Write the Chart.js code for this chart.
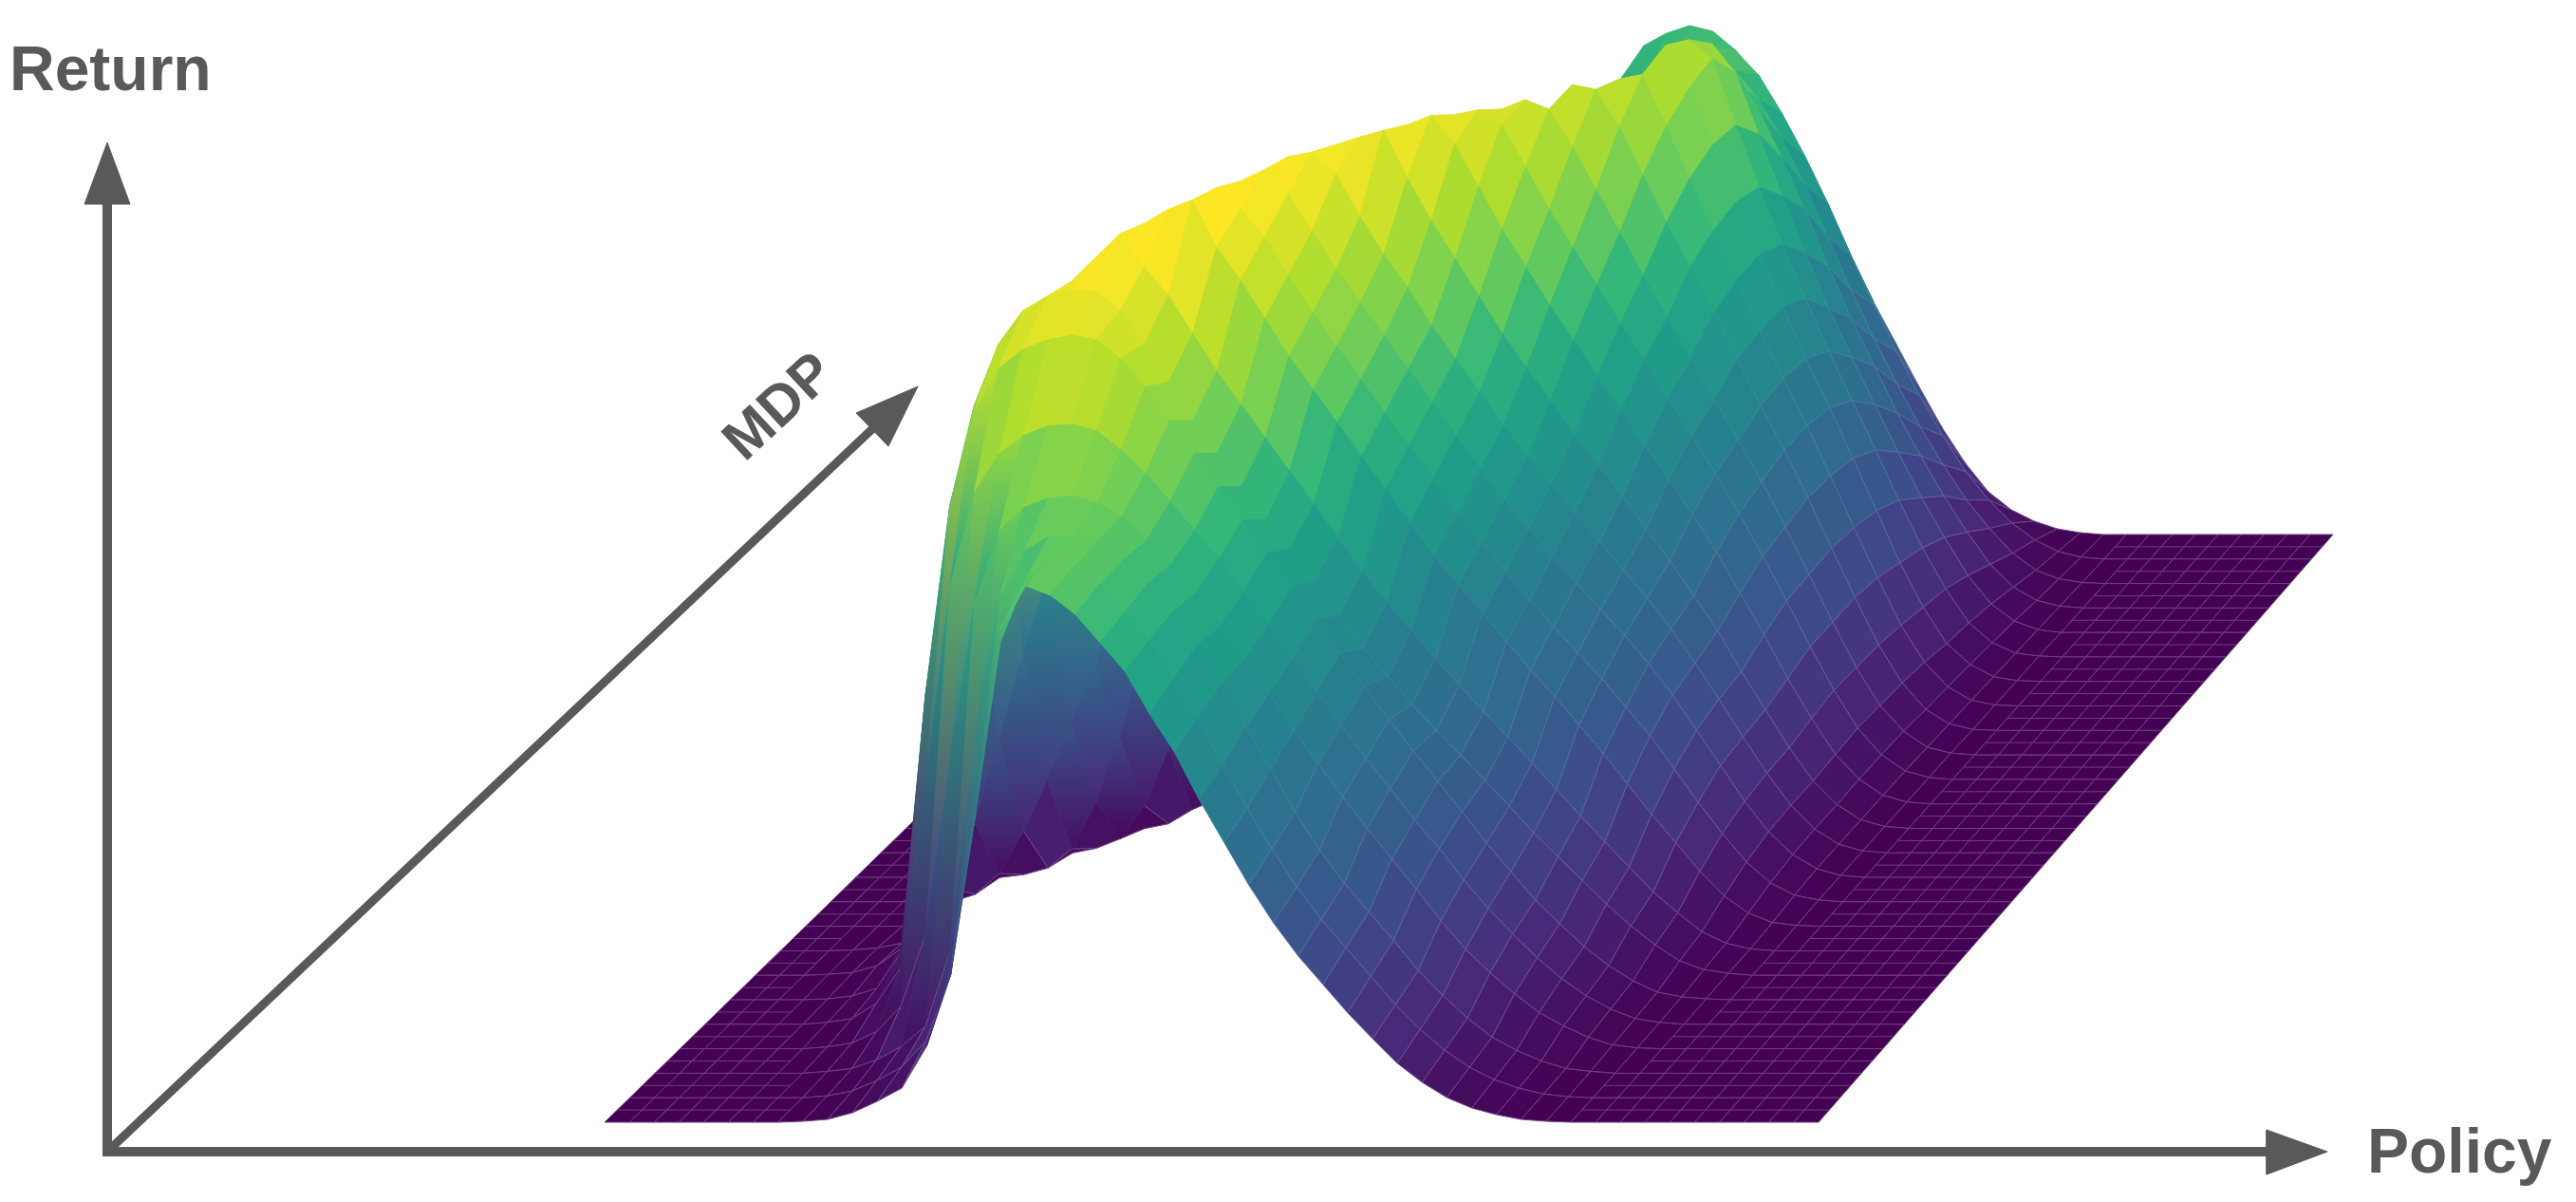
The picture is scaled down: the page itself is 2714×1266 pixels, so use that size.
<!DOCTYPE html>
<html><head><meta charset="utf-8">
<style>html,body{margin:0;background:#fff}canvas{display:block}</style>
<script src="https://cdn.jsdelivr.net/npm/chart.js@4"></script>
</head><body><canvas id="c" width="2714" height="1266"></canvas>
<script>
const axisLabels=["Return","MDP","Policy"];
const inkColor="#595959";
// surface height: one list per MDP row, front to back, one value per policy column
const row00=[0,0,0,0,0,0,0,0,1,3,10,22,36,80,165,340,520,565,555,535,505,475,430,390,340,295,250,210,175,145,115,88,62,42,26,15,8,3,1];
const row01=[0,0,0,0,0,0,0,0,2,7,18,32,60,130,300,480,545,565,560,540,510,480,440,400,350,305,262,222,188,158,128,98,72,50,32,19,10,4,1];
const row02=[0,0,0,0,0,0,0,2,5,14,28,50,130,340,500,550,565,565,560,540,515,485,450,410,365,320,275,235,200,170,140,108,82,58,38,24,13,5,2];
const row03=[0,0,0,0,0,0,2,6,18,45,120,300,470,545,570,580,582,575,560,535,510,480,445,410,375,335,300,265,232,200,168,135,105,80,58,38,24,12,4,1];
const row04=[0,0,0,0,0,2,6,22,60,250,460,560,600,620,630,632,625,605,580,550,520,490,455,420,385,350,315,280,248,215,185,152,122,95,70,48,30,16,6,2];
const row05=[0,0,0,0,1,4,12,50,320,520,620,665,685,695,700,695,675,645,610,575,540,505,470,435,400,365,330,295,262,230,198,165,135,105,80,56,36,20,8,3,1];
const row06=[0,0,0,1,3,10,28,200,470,600,665,700,715,722,720,700,665,625,585,550,515,480,450,415,380,345,315,285,258,232,205,178,150,125,100,75,52,32,15,6,2];
const row07=[0,0,0,1,3,8,60,250,400,520,610,680,705,730,755,720,690,650,610,575,540,505,470,435,400,368,338,308,280,252,225,198,170,142,115,88,62,40,20,8,2];
const row08=[0,0,0,0,0,10,40,110,200,290,370,450,550,645,740,755,765,715,680,640,600,565,530,495,460,425,390,360,330,300,270,242,212,182,150,118,88,58,32,14,4,1];
const row09=[0,0,0,0,0,0,8,30,75,130,190,250,330,440,580,690,752,730,700,660,620,585,550,515,480,445,410,378,348,318,290,262,235,205,175,140,105,72,42,20,7,2];
const row10=[0,0,0,0,0,0,0,3,10,30,80,150,240,380,520,650,733,745,720,680,640,605,570,535,500,465,430,398,368,338,310,282,255,225,192,155,118,80,48,24,9,2];
const row11=[0,0,0,0,0,0,0,0,0,5,15,50,110,200,320,470,620,733,738,715,670,630,595,555,520,485,450,418,388,358,328,298,268,236,200,162,122,84,50,25,9,2];
const row12=[0,0,0,0,0,0,0,0,0,0,0,5,20,70,150,270,420,590,720,728,735,685,640,600,560,520,485,450,415,382,350,315,282,245,208,165,125,85,50,25,9,2];
const row13=[0,0,0,0,0,0,0,0,0,0,0,0,5,20,60,120,230,380,540,670,715,725,695,650,605,565,525,488,450,415,378,342,305,265,222,178,132,90,52,26,9,2];
const row14=[0,0,0,0,0,0,0,0,0,0,0,0,0,2,10,40,100,190,320,480,620,700,705,690,645,600,560,520,480,442,402,362,322,280,235,188,140,94,54,26,9,2];
const row15=[0,0,0,0,0,0,0,0,0,0,0,0,0,0,0,5,20,60,130,250,400,560,680,690,680,640,595,550,505,460,418,375,332,288,240,190,140,92,52,25,8,2];
const row16=[0,0,0,0,0,0,0,0,0,0,0,0,0,0,0,0,3,15,50,110,210,340,490,620,680,675,635,585,535,488,440,392,342,295,245,192,140,90,50,22,7,1];
const row17=[0,0,0,0,0,0,0,0,0,0,0,0,0,0,0,2,8,20,40,75,130,215,330,470,590,660,665,610,555,500,448,395,345,295,242,188,135,85,46,20,6,1];
const row18=[0,0,0,0,0,0,0,0,0,0,0,0,0,0,0,1,3,10,22,45,85,150,250,380,520,630,670,625,565,505,450,395,340,288,235,180,125,78,40,18,5,1];
const row19=[0,0,0,0,0,0,0,0,0,0,0,0,0,0,0,0,2,6,14,30,60,115,210,350,490,600,650,630,560,495,435,378,322,270,218,165,115,72,36,15,4,1];
const row20=[0,0,0,0,0,0,0,0,0,0,0,0,0,0,0,0,0,4,10,22,50,105,230,400,520,600,620,590,525,460,400,342,290,240,190,142,100,60,30,12,3];
const row21=[0,0,0,0,0,0,0,0,0,0,0,0,0,0,0,0,0,3,8,20,60,180,400,520,565,570,555,525,475,420,360,305,255,205,160,118,80,46,22,8,2];
const row22=[0,0,0,0,0,0,0,0,0,0,0,0,0,0,0,0,0,3,100,300,430,480,510,540,555,540,510,470,420,365,310,258,210,165,125,88,58,32,14,5,1];
const row23=[0,0,0,0,0,0,0,0,0,0,0,0,0,0,0,0,0,100,350,480,500,510,520,540,535,510,470,425,375,320,268,218,172,130,92,62,38,20,8,2];
const row24=[0,0,0,0,0,0,0,0,0,0,0,0,0,0,0,0,0,200,480,515,528,536,530,510,480,440,395,345,295,245,200,155,112,75,45,26,14,6,2];
const surfaceRows=[row00,row01,row02,row03,row04,row05,row06,row07,row08,row09,row10,row11,row12,row13,row14,row15,row16,row17,row18,row19,row20,row21,row22,row23,row24];
const columnCount=50;
const heightStops=[0,100,200,340,490,570,640,720,740];
const colourStops=[0,.14,.27,.43,.62,.77,.87,.98,1];
const viridis=[[68,1,84],[72,40,120],[62,74,137],[49,104,142],[38,130,142],[31,158,137],[53,183,121],[109,205,89],[180,222,44],[253,231,37]];

const canvas=document.getElementById('c'),pen=canvas.getContext('2d');
function place(u,v,z){return {x:637+635*v+(1279-93*v)*u,y:1182-619*v-z};}
function tone(z){
  let i=0;while(i<heightStops.length-2&&z>heightStops[i+1])i++;
  const f=(z-heightStops[i])/(heightStops[i+1]-heightStops[i]);
  return Math.max(0,Math.min(1,colourStops[i]+f*(colourStops[i+1]-colourStops[i])));
}
function paint(t,white){
  const p=t*(viridis.length-1),i=Math.min(viridis.length-2,Math.floor(p)),f=p-i;
  const c=viridis[i].map((a,n)=>a+(viridis[i+1][n]-a)*f).map(a=>Math.round(a+(255-a)*white));
  return `rgb(${c[0]},${c[1]},${c[2]})`;
}
// a tall, steep cell cannot be one flat colour: it shades from its lowest to its highest corner
function cellFill(pts,zs,flat){
  const lo=Math.min(...zs),hi=Math.max(...zs);
  if(hi-lo<130) return flat;
  const ys=zs.map((z,i)=>({z,y:pts[i].y})),top=ys.find(o=>o.z===hi),low=ys.find(o=>o.z===lo);
  if(Math.abs(top.y-low.y)<1) return flat;
  const g=pen.createLinearGradient(0,top.y,0,low.y);
  g.addColorStop(0,paint(tone(hi),0));g.addColorStop(1,paint(tone(lo),0));
  return g;
}
const datasets=[];
const H=(r,k)=>surfaceRows[r][k]??0;
// painter's order: chart draws the last dataset first, so the front rows go first in the list
const last=surfaceRows.length-1;
for(let r=0;r<last;r++){
  for(let k=columnCount-2;k>=0;k--){
    const u0=k/(columnCount-1),u1=(k+1)/(columnCount-1),v0=r/last,v1=(r+1)/last;
    const a=H(r,k),b=H(r,k+1),c=H(r+1,k+1),d=H(r+1,k);
    const t=tone((a+b+c+d)/4);
    const edge=paint(t,Math.max(0,.24*(1-t*1.7)));
    // the flat floor carries one extra mesh line per cell, as the reference mesh is twice as dense there
    if(a+b+c+d===0){
      const m=(v0+v1)/2;
      datasets.push({data:[place(u0,m,0),place(u1,m,0)],showLine:true,fill:false,borderColor:edge,borderWidth:1,pointRadius:0,tension:0,clip:false});
    }
    const pts=[place(u0,v0,a),place(u1,v0,b),place(u1,v1,c),place(u0,v1,d)];
    const fillStyle=cellFill(pts,[a,b,c,d],paint(t,0));
    datasets.push({data:[...pts,pts[0]],showLine:true,fill:'shape',backgroundColor:fillStyle,
      borderColor:fillStyle===paint(t,0)?edge:fillStyle,borderWidth:1,pointRadius:0,tension:0,clip:false});
  }
}
function ink(points,width,filled){
  return {data:points,showLine:true,fill:filled?'shape':false,backgroundColor:inkColor,borderColor:inkColor,borderWidth:width,pointRadius:0,tension:0,clip:false};
}
const returnAxis=[{x:113,y:1213},{x:113,y:210}],returnHead=[{x:113,y:150},{x:89,y:215},{x:137,y:215},{x:113,y:150}];
const policyAxis=[{x:108,y:1213},{x:2392,y:1213}],policyHead=[{x:2452,y:1213},{x:2388,y:1190},{x:2388,y:1237},{x:2452,y:1213}];
const mdpAxis=[{x:113,y:1213},{x:922,y:449}],mdpHead=[{x:967,y:407},{x:902,y:435},{x:936,y:470},{x:967,y:407}];
datasets.unshift(ink(returnAxis,10),ink(returnHead,1,true),ink(policyAxis,10),ink(policyHead,1,true));
datasets.push(ink(mdpAxis,9),ink(mdpHead,1,true));
const textPlugin={id:'texts',afterDraw(chart){
  const {ctx,scales:{x,y}}=chart;ctx.save();ctx.fillStyle=inkColor;ctx.font='bold 66px "Liberation Sans"';ctx.textBaseline='alphabetic';
  ctx.fillText(axisLabels[0],x.getPixelForValue(10),y.getPixelForValue(95));
  ctx.fillText(axisLabels[2],x.getPixelForValue(2494),y.getPixelForValue(1235));
  ctx.translate(x.getPixelForValue(822),y.getPixelForValue(430));ctx.rotate(-43*Math.PI/180);
  ctx.font='bold 60px "Liberation Sans"';ctx.textAlign='center';ctx.textBaseline='middle';ctx.fillText(axisLabels[1],0,0);
  ctx.restore();
}};
new Chart(canvas,{type:'scatter',data:{datasets},plugins:[textPlugin],options:{
  responsive:false,animation:false,events:[],layout:{padding:0},
  plugins:{legend:{display:false},tooltip:{enabled:false}},
  scales:{x:{type:'linear',min:0,max:2714,display:false},y:{type:'linear',min:0,max:1266,reverse:true,display:false}}
}});
</script></body></html>
